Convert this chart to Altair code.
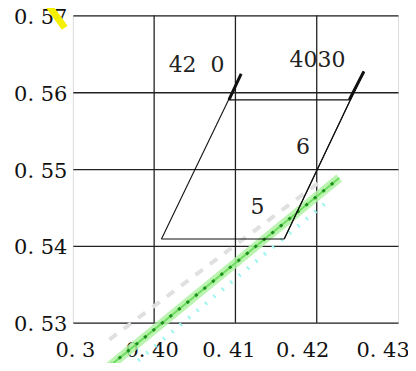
import altair as alt
import pandas as pd

# axis ticks / labels
x_grid = [0.40, 0.41, 0.42]
x_label_pos = [0.39025, 0.39969, 0.40914, 0.41822, 0.42810]
x_labels = ["0. 3", "0. 40", "0. 41", "0. 42", "0. 43"]
y_ticks = [0.53, 0.54, 0.55, 0.56, 0.57]
y_labels = ["0. 53", "0. 54", "0. 55", "0. 56", "0. 57"]

# parallelogram segments (x, y, x2, y2)
seg_x = [0.4009, 0.4160, 0.4092, 0.4009, 0.4160]
seg_y = [0.5409, 0.5409, 0.5590, 0.5409, 0.5409]
seg_x2 = [0.4160, 0.4258, 0.4240, 0.4107, 0.4258]
seg_y2 = [0.5409, 0.5627, 0.5590, 0.5624, 0.5627]

# thick end pieces
thick_x = [0.4092, 0.4240]
thick_y = [0.5590, 0.5590]
thick_x2 = [0.4107, 0.4258]
thick_y2 = [0.5624, 0.5627]

# annotations
txt = ["42", "0", "4030", "6", "5"]
txt_x = [0.4035, 0.4078, 0.4201, 0.4183, 0.4127]
txt_y = [0.5635, 0.5635, 0.5642, 0.5529, 0.5451]

# scan smudges
green_x = [0.39356, 0.42276]
green_y = [0.52351, 0.54883]
cyan_x = [0.39699, 0.42153]
cyan_y = [0.52416, 0.54597]
grey_x = [0.3945, 0.4207]
grey_y = [0.5278, 0.5486]
yellow_x = [0.3866, 0.3890]
yellow_y = [0.5719, 0.5684]

xs = alt.Scale(domain=[0.39, 0.43], nice=False, zero=False)
ys = alt.Scale(domain=[0.53, 0.57], nice=False, zero=False)

FONT = "DejaVu Serif"

def lbl(vals, labels):
    parts = " : ".join(
        f"abs(datum.value - {v}) < 0.00001 ? '{t}'" for v, t in zip(vals, labels)
    )
    return parts + " : ''"

axis_x = alt.Axis(values=x_label_pos, labelExpr=lbl(x_label_pos, x_labels), title=None,
                  grid=False, ticks=False, domain=False, labelFont=FONT, labelFontSize=21,
                  labelColor="#111", labelPadding=17, labelFlush=False, labelOverlap=False)
axis_y = alt.Axis(values=y_ticks, labelExpr=lbl(y_ticks, y_labels), title=None,
                  grid=True, gridColor="#222", gridWidth=1.3, gridOpacity=1,
                  ticks=False, domain=False, labelFont=FONT, labelFontSize=21,
                  labelColor="#111", labelPadding=6, labelOffset=2,
                  labelFlush=False, labelOverlap=False)

seg_df = pd.DataFrame({"x": seg_x, "y": seg_y, "x2": seg_x2, "y2": seg_y2})
thick_df = pd.DataFrame({"x": thick_x, "y": thick_y, "x2": thick_x2, "y2": thick_y2})
txt_df = pd.DataFrame({"t": txt, "x": txt_x, "y": txt_y})
vgrid_df = pd.DataFrame({"x": x_grid})
green_df = pd.DataFrame({"x": green_x, "y": green_y})
cyan_df = pd.DataFrame({"x": cyan_x, "y": cyan_y})
grey_df = pd.DataFrame({"x": grey_x, "y": grey_y})
yellow_df = pd.DataFrame({"x": yellow_x, "y": yellow_y})

frame = alt.Chart(seg_df).mark_point(opacity=0).encode(
    x=alt.X("x:Q", scale=xs, axis=axis_x),
    y=alt.Y("y:Q", scale=ys, axis=axis_y),
)

vgrid = alt.Chart(vgrid_df).mark_rule(color="#222", strokeWidth=1.3).encode(
    x=alt.X("x:Q", scale=xs))

grey = alt.Chart(grey_df).mark_line(color="#e0e0e0", strokeWidth=4, strokeDash=[9, 9], clip=False).encode(
    x=alt.X("x:Q", scale=xs), y=alt.Y("y:Q", scale=ys))
cyan = alt.Chart(cyan_df).mark_line(color="#9ff5f0", strokeWidth=4, strokeDash=[2, 9], clip=False).encode(
    x=alt.X("x:Q", scale=xs), y=alt.Y("y:Q", scale=ys))
green = alt.Chart(green_df).mark_line(color="#aef2a2", strokeWidth=9, opacity=0.85, clip=False).encode(
    x=alt.X("x:Q", scale=xs), y=alt.Y("y:Q", scale=ys))
green_hi = alt.Chart(green_df).mark_line(color="#6fdc5f", strokeWidth=2, clip=False).encode(
    x=alt.X("x:Q", scale=xs), y=alt.Y("y:Q", scale=ys))
green2 = alt.Chart(green_df).mark_line(color="#1c8f1c", strokeWidth=3, strokeDash=[3, 8], clip=False).encode(
    x=alt.X("x:Q", scale=xs), y=alt.Y("y:Q", scale=ys))
yellow = alt.Chart(yellow_df).mark_line(color="#f5f000", strokeWidth=7, clip=False).encode(
    x=alt.X("x:Q", scale=xs), y=alt.Y("y:Q", scale=ys))

segs = alt.Chart(seg_df).mark_rule(color="#111", strokeWidth=1.1).encode(
    x=alt.X("x:Q", scale=xs), y=alt.Y("y:Q", scale=ys), x2="x2:Q", y2="y2:Q")
thick = alt.Chart(thick_df).mark_rule(color="#111", strokeWidth=3).encode(
    x=alt.X("x:Q", scale=xs), y=alt.Y("y:Q", scale=ys), x2="x2:Q", y2="y2:Q")
texts = alt.Chart(txt_df).mark_text(font=FONT, fontSize=22, color="#222").encode(
    x=alt.X("x:Q", scale=xs), y=alt.Y("y:Q", scale=ys), text="t:N")

chart = alt.layer(frame, vgrid, grey, cyan, green, green_hi, green2, yellow, segs, thick, texts).properties(
    width=326, height=308,
    autosize=alt.AutoSizeParams(type="none"),
    padding={"left": 65, "top": 7, "right": 10, "bottom": 40},
).configure_view(stroke="#222", strokeWidth=1.5).configure(background="white")

chart.save("out.html", embed_options={"renderer": "svg", "actions": False})
